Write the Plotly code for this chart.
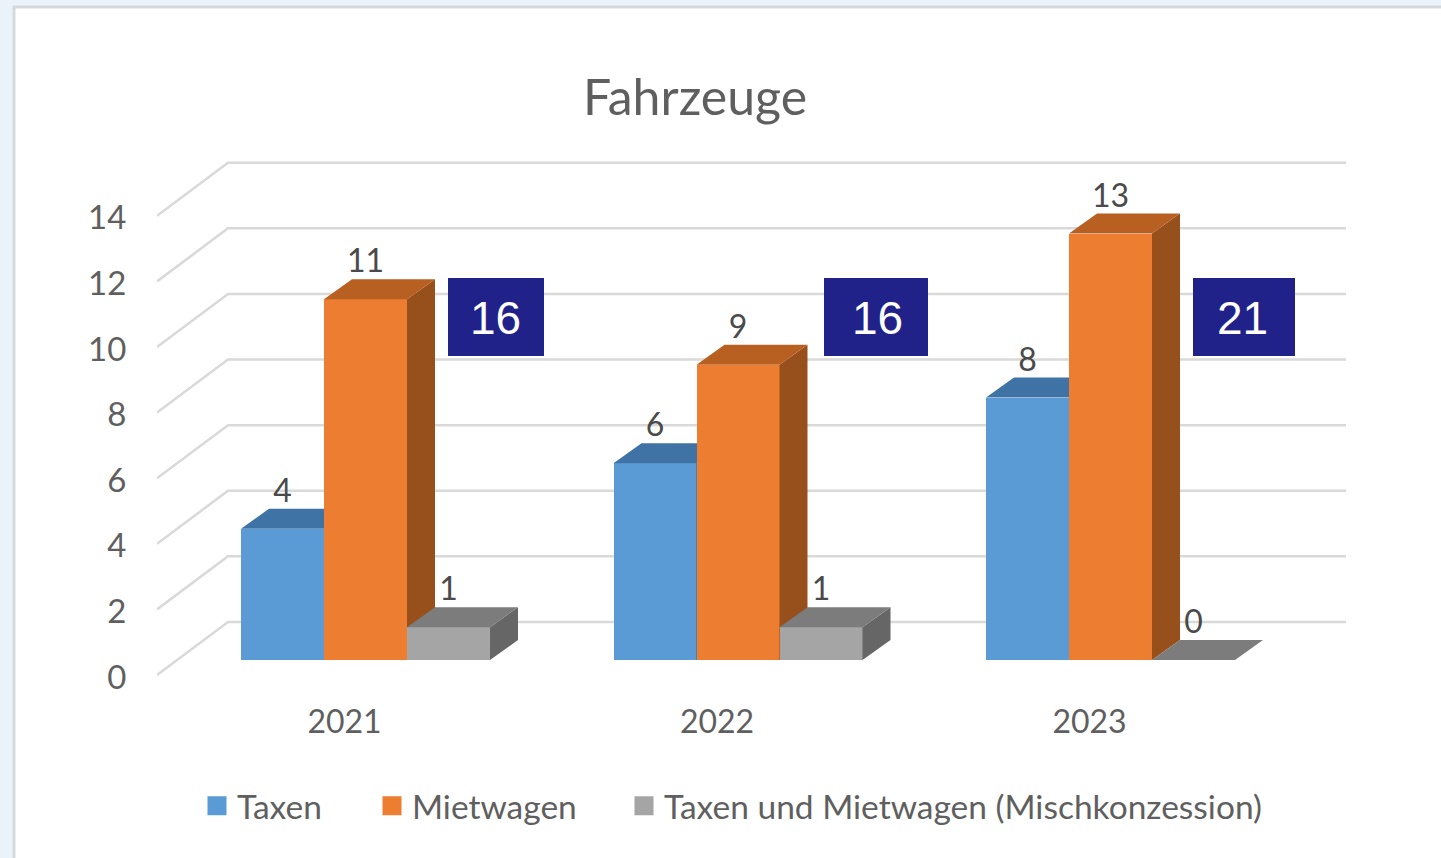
import plotly.graph_objects as go

# ---- data ----
years = ["2021", "2022", "2023"]
taxen = [4, 6, 8]
mietwagen = [11, 9, 13]
misch = [1, 1, 0]
totals = [16, 16, 21]
y_ticks = [0, 2, 4, 6, 8, 10, 12, 14]
series_names = ["Taxen", "Mietwagen", "Taxen und Mietwagen (Mischkonzession)"]

# ---- styling / geometry ----
W, H = 1441, 858
PX_X, PX_Y = 372.5, 32.8            # px per category, px per unit
X0_PX, Y0_PX = 365.5, 660           # centre of first group, value 0 on the front plane
L, R, T, B = 157, 1346, 150, 690    # plot area in px
BAR = 83 / PX_X
DX, DY = 28 / PX_X, 20 / PX_Y
WALL_DX, WALL_DY = 71 / PX_X, 1.16
LEFT_DY = -15 / PX_Y
TICK_SHIFT = -2 / PX_Y
FONT = "Lato"
TXT = "#5f5f5f"
LBL = "#4a4a4a"
cols = [("#5b9bd5", "#3f73a5", "#3a6590"),
        ("#ed7d31", "#b85f22", "#974f1b"),
        ("#a5a5a5", "#7c7c7c", "#666666")]
values = [taxen, mietwagen, misch]
legend_x_px = [197, 372, 624]
x_range = [(L - X0_PX) / PX_X, (R - X0_PX) / PX_X]
y_range = [(Y0_PX - B) / PX_Y, (Y0_PX - T) / PX_Y]
idx = list(range(len(years)))

fig = go.Figure()

# grid: left wall + back wall
for v in y_ticks:
    fig.add_trace(go.Scatter(
        x=[x_range[0], x_range[0] + WALL_DX, x_range[1]],
        y=[v + LEFT_DY, v + WALL_DY, v + WALL_DY],
        mode="lines", line=dict(color="#d9d9d9", width=2.5),
        hoverinfo="skip", showlegend=False, xaxis="x", yaxis="y"))

def poly(pts_list):
    xs, ys = [], []
    for pts in pts_list:
        xs += [p[0] for p in pts] + [pts[0][0], None]
        ys += [p[1] for p in pts] + [pts[0][1], None]
    return xs, ys

legend_ids = ["legend", "legend2", "legend3"]

# bars: one overlaid subplot per series so later series cover earlier ones
for s, (name, vals, (front, top, side)) in enumerate(zip(series_names, values, cols)):
    xa, ya = f"x{s + 2}", f"y{s + 2}"
    off = (s - 1.5) * BAR
    fig.add_trace(go.Bar(x=idx, y=vals, width=BAR, offset=off, name=name,
                         marker=dict(color=front, line=dict(width=0)),
                         showlegend=False, xaxis=xa, yaxis=ya))
    tops, sides = [], []
    for i, v in zip(idx, vals):
        x0, x1 = i + off, i + off + BAR
        tops.append([(x0, v), (x1, v), (x1 + DX, v + DY), (x0 + DX, v + DY)])
        sides.append([(x1, 0), (x1 + DX, DY), (x1 + DX, v + DY), (x1, v)])
    for pts, c in ((sides, side), (tops, top)):
        xs, ys = poly(pts)
        fig.add_trace(go.Scatter(x=xs, y=ys, mode="lines", fill="toself", fillcolor=c,
                                 line=dict(width=0), hoverinfo="skip", showlegend=False,
                                 xaxis=xa, yaxis=ya))
    fig.add_trace(go.Scatter(
        x=[i + off + BAR / 2 for i in idx], y=[v + 35 / PX_Y for v in vals],
        text=[str(v) for v in vals], mode="text", textposition="middle center",
        textfont=dict(family=FONT, size=32, color=LBL), hoverinfo="skip",
        showlegend=False, xaxis=xa, yaxis=ya))
    # legend swatch
    fig.add_trace(go.Scatter(x=[None], y=[None], mode="markers", name=name,
                             legend=legend_ids[s],
                             marker=dict(symbol="square", size=16, color=front,
                                         line=dict(color=front, width=3)),
                             xaxis=xa, yaxis=ya))

# page card + totals boxes
shapes = [dict(type="rect", xref="paper", yref="paper", layer="below",
               x0=14 / W, x1=1.05, y0=-0.05, y1=1 - 7 / H,
               fillcolor="white", line=dict(color="#d5d9dd", width=3))]
boxes = [(448, 278, 544, 356), (824, 278, 928, 356), (1193, 278, 1295, 356)]
box_text_x = [496, 877, 1242]
for bx0, by0, bx1, by1 in boxes:
    shapes.append(dict(type="rect", xref="paper", yref="paper", layer="above",
                       x0=bx0 / W, x1=bx1 / W, y0=1 - by1 / H, y1=1 - by0 / H,
                       fillcolor="#20228a", line=dict(width=0)))
annotations = [dict(xref="paper", yref="paper", x=tx / W, y=1 - 318 / H,
                    xanchor="center", yanchor="middle", showarrow=False,
                    text=str(t), font=dict(family="Liberation Sans", size=46, color="white"))
               for t, tx in zip(totals, box_text_x)]

common_hidden = dict(visible=False, fixedrange=True)
layout = dict(
    width=W, height=H, margin=dict(l=0, r=0, t=0, b=0, pad=0, autoexpand=False),
    paper_bgcolor="#eaf2fa", plot_bgcolor="rgba(0,0,0,0)",
    bargap=0, barmode="overlay",
    title=dict(text="Fahrzeuge", x=695 / W, xref="paper", xanchor="center",
               y=1 - 97 / H, yref="paper", yanchor="middle",
               font=dict(family=FONT, size=50, color=TXT)),
    xaxis=dict(domain=[L / W, R / W], range=x_range, showgrid=False, zeroline=False,
               showline=False, tickmode="array",
               tickvals=[i - 21 / PX_X for i in idx], ticktext=years,
               ticks="outside", ticklen=4, tickcolor="rgba(0,0,0,0)",
               tickfont=dict(family=FONT, size=32, color=TXT), fixedrange=True),
    yaxis=dict(domain=[1 - B / H, 1 - T / H], range=y_range, showgrid=False, zeroline=False,
               showline=False, tickmode="array",
               tickvals=[v + LEFT_DY + TICK_SHIFT for v in y_ticks],
               ticktext=[str(v) for v in y_ticks],
               ticks="outside", ticklen=23, tickcolor="rgba(0,0,0,0)",
               tickfont=dict(family=FONT, size=33, color=TXT), fixedrange=True),
    shapes=shapes, annotations=annotations, hovermode=False,
)
for lid, lx in zip(legend_ids, legend_x_px):
    layout[lid] = dict(orientation="h", x=lx / W, xanchor="left", y=1 - 806 / H, yanchor="middle",
                       font=dict(family=FONT, size=33.5, color=TXT),
                       bgcolor="rgba(0,0,0,0)", itemclick=False, itemdoubleclick=False)
for s in range(3):
    n = s + 2
    layout[f"xaxis{n}"] = dict(overlaying="x", range=x_range, anchor=f"y{n}", **common_hidden)
    layout[f"yaxis{n}"] = dict(overlaying="y", range=y_range, anchor=f"x{n}", **common_hidden)
fig.update_layout(**layout)

fig.write_html("out.html", config=dict(displayModeBar=False),
               post_script="document.body.style.margin='0';document.body.style.overflow='hidden';")
